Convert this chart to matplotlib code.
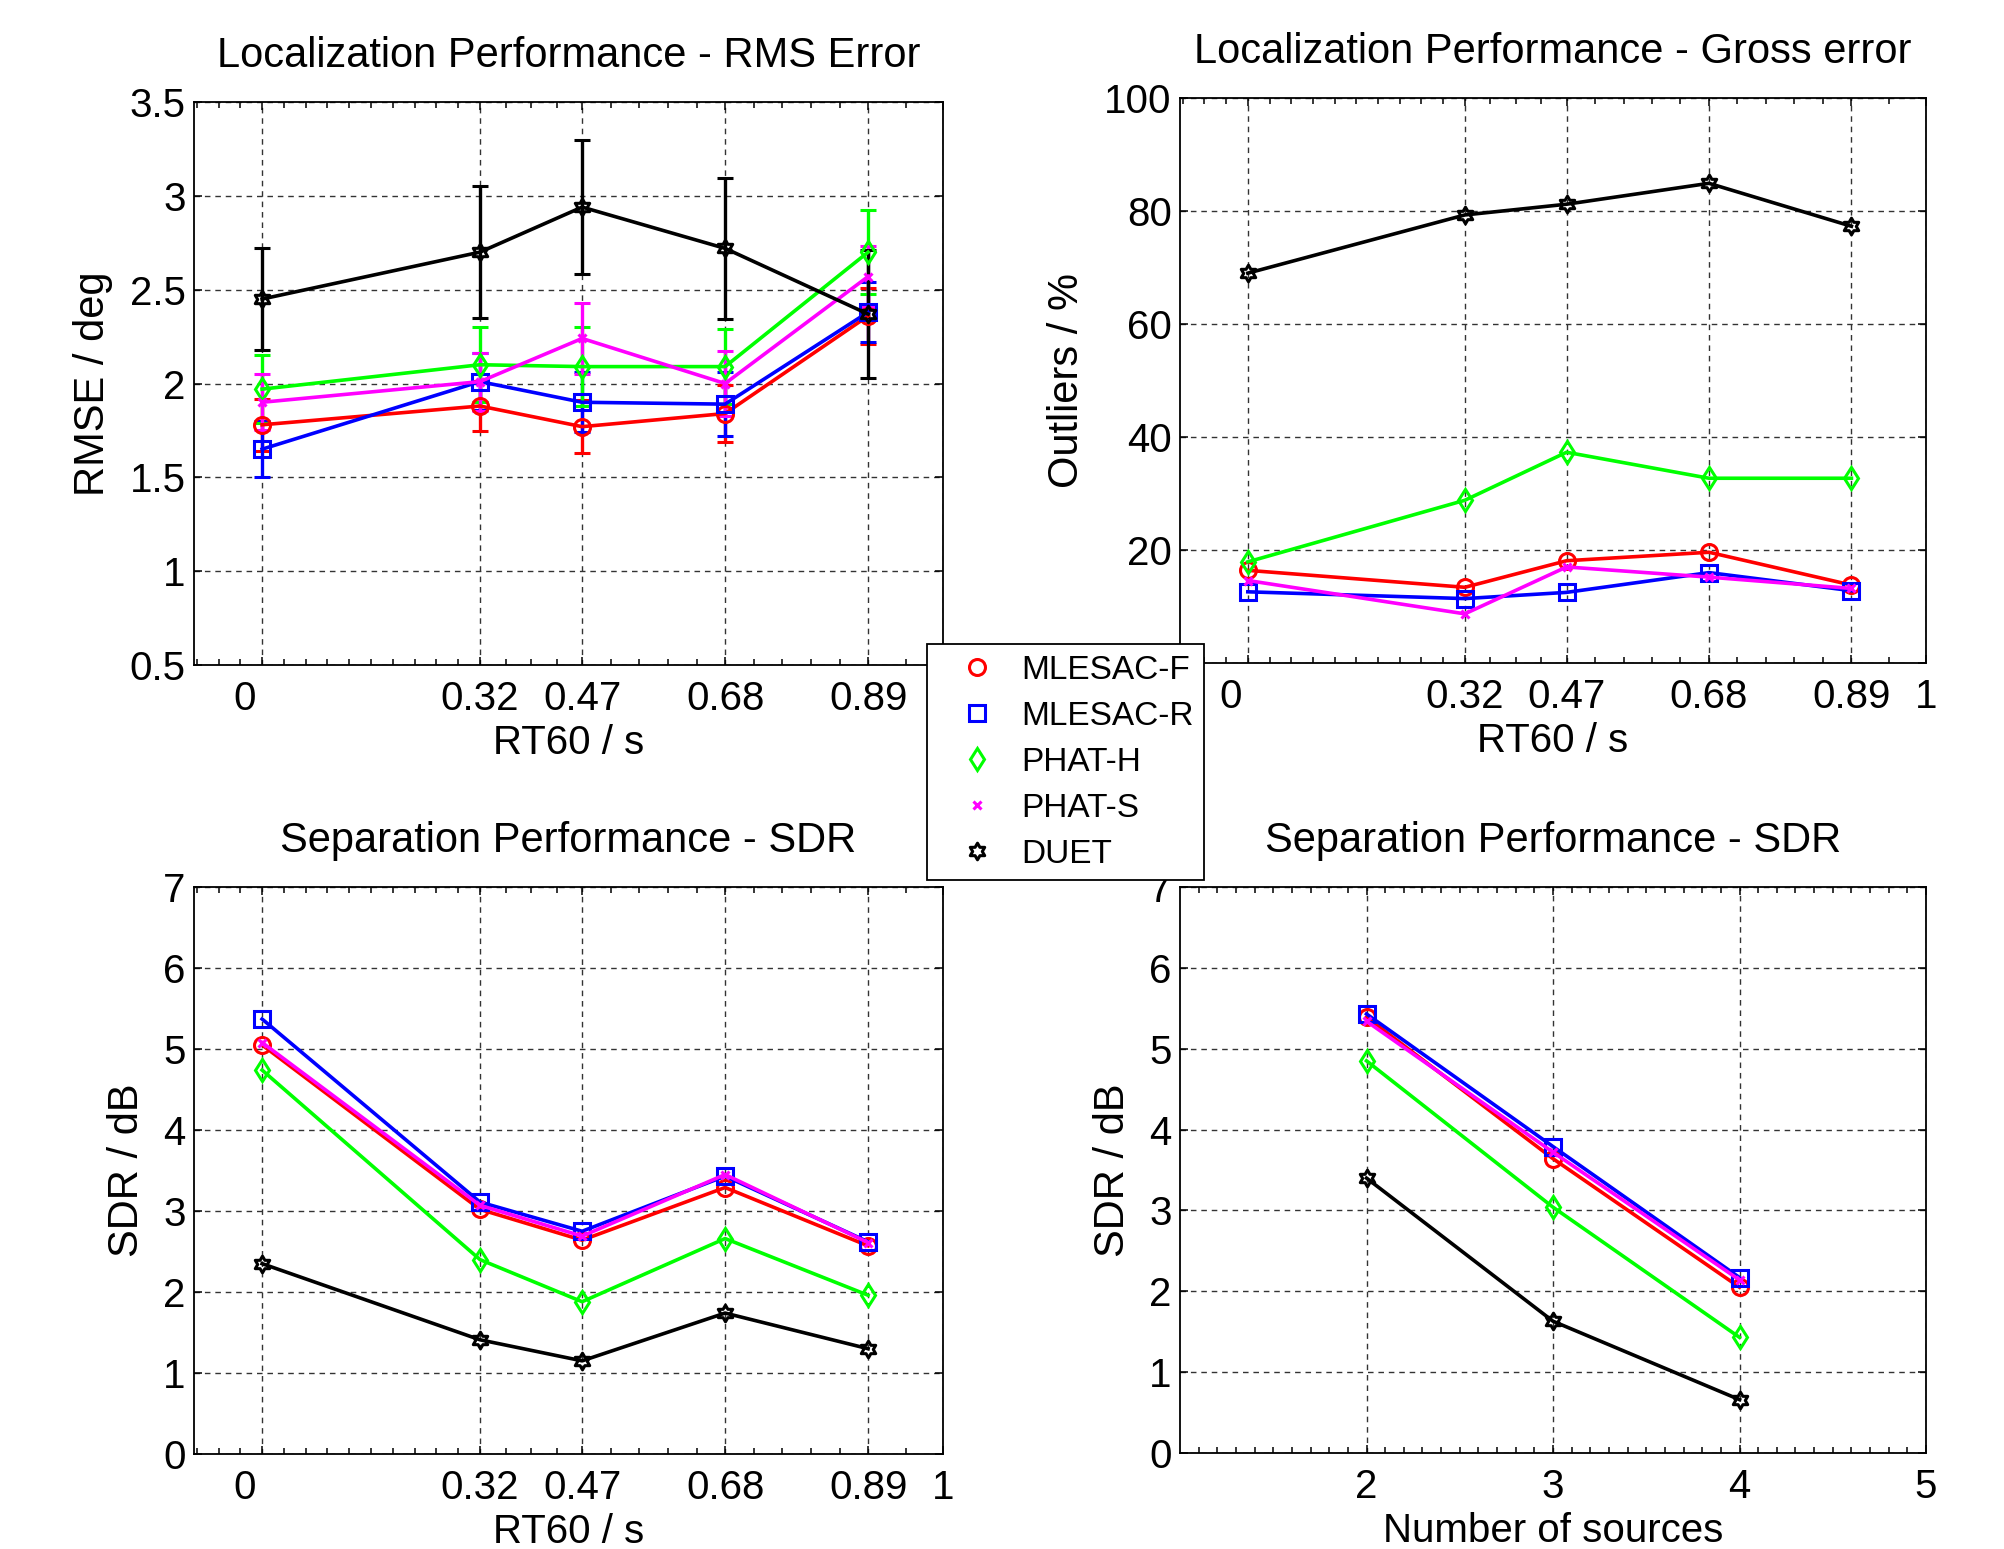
"""Localization and separation performance of the TDOA estimators."""

from __future__ import annotations

import matplotlib

matplotlib.use("Agg")
import matplotlib.pyplot as plt
import numpy as np
from matplotlib.lines import Line2D
from matplotlib.path import Path
from matplotlib.ticker import FixedLocator, FuncFormatter
from matplotlib.transforms import ScaledTranslation


METHODS = ["MLESAC-F", "MLESAC-R", "PHAT-H", "PHAT-S", "DUET"]
RT60_VALUES = [0.0, 0.32, 0.47, 0.68, 0.89]
RT60_TICKS = [0.0, 0.32, 0.47, 0.68, 0.89, 1.0]
SOURCE_COUNTS = [2, 3, 4]

# rows follow METHODS, columns follow RT60_VALUES
RMSE_MEAN = [
    [1.78, 1.88, 1.77, 1.84, 2.36],
    [1.65, 2.01, 1.90, 1.89, 2.38],
    [1.97, 2.10, 2.09, 2.09, 2.70],
    [1.90, 2.01, 2.24, 2.00, 2.57],
    [2.45, 2.70, 2.94, 2.72, 2.37],
]
RMSE_STD = [
    [0.14, 0.135, 0.14, 0.15, 0.15],
    [0.15, 0.15, 0.16, 0.17, 0.16],
    [0.18, 0.20, 0.21, 0.20, 0.225],
    [0.15, 0.155, 0.19, 0.175, 0.165],
    [0.27, 0.35, 0.355, 0.375, 0.34],
]
OUTLIER_PCT = [
    [16.4, 13.4, 18.1, 19.6, 13.8],
    [12.6, 11.4, 12.5, 16.0, 12.8],
    [17.9, 28.8, 37.3, 32.7, 32.7],
    [14.6, 8.7, 17.0, 15.2, 13.2],
    [69.0, 79.3, 81.2, 84.9, 77.3],
]
SDR_RT60 = [
    [5.05, 3.02, 2.64, 3.29, 2.57],
    [5.37, 3.11, 2.75, 3.43, 2.62],
    [4.74, 2.40, 1.88, 2.66, 1.96],
    [5.08, 3.07, 2.69, 3.45, 2.61],
    [2.35, 1.41, 1.15, 1.74, 1.30],
]
# rows follow METHODS, columns follow SOURCE_COUNTS
SDR_SOURCES = [
    [5.39, 3.64, 2.05],
    [5.43, 3.79, 2.17],
    [4.85, 3.04, 1.43],
    [5.34, 3.72, 2.14],
    [3.40, 1.63, 0.66],
]

FIG_W, FIG_H = 2004, 1549
TICK_SIZE = 29
LABEL_SIZE = 29
TITLE_SIZE = 30
LEGEND_SIZE = 24
LINE_WIDTH = 2.6


def hexagram_path() -> Path:
    """Return the outline of a six-pointed star marker."""
    angles = np.deg2rad(90 + 30 * np.arange(12))
    radii = np.where(np.arange(12) % 2 == 0, 1.0, 1 / np.sqrt(3))
    verts = np.column_stack([radii * np.cos(angles), radii * np.sin(angles)])
    verts = np.vstack([verts, verts[:1]])
    codes = [Path.MOVETO] + [Path.LINETO] * 11 + [Path.CLOSEPOLY]
    return Path(verts, codes)


STYLES = {
    "MLESAC-F": dict(color=(1, 0, 0), marker="o", ms=11.5),
    "MLESAC-R": dict(color=(0, 0, 1), marker="s", ms=11.5),
    "PHAT-H": dict(color=(0, 1, 0), marker="d", ms=11.5),
    "PHAT-S": dict(color=(1, 0, 1), marker="x", ms=6),
    "DUET": dict(color=(0, 0, 0), marker=hexagram_path(), ms=12),
}


def px_axes(fig, left: int, top: int, right: int, bottom: int):
    """Add an axes given its pixel box (origin top-left)."""
    rect = [left / FIG_W, 1 - bottom / FIG_H, (right - left) / FIG_W, (bottom - top) / FIG_H]
    return fig.add_axes(rect)


def rt60_minor_ticks() -> list[float]:
    """Subdivide the RT60 tick intervals the way the axis ruler does."""
    edges = RT60_TICKS
    parts = [10, 4, 5, 5, 2]
    ticks = [-0.032, -0.064, -0.096]
    for start, stop, count in zip(edges[:-1], edges[1:], parts):
        ticks.extend(np.linspace(start, stop, count + 1)[1:-1])
    return ticks


def style_axes(ax, title: str, xlabel: str, ylabel: str) -> None:
    """Boxed axes with inward ticks and dashed grid."""
    for spine in ax.spines.values():
        spine.set_linewidth(1.3)
        spine.set_color("black")
    ax.tick_params(
        which="both", direction="in", top=True, right=True,
        labelsize=TICK_SIZE, width=1.1, color="black",
    )
    ax.tick_params(axis="x", which="major", length=6, pad=11)
    ax.tick_params(axis="y", which="major", length=6, pad=6)
    ax.tick_params(which="minor", length=4.5)
    ax.yaxis.set_major_formatter(FuncFormatter(lambda v, _: f"{v:g}"))
    ax.xaxis.set_major_formatter(FuncFormatter(lambda v, _: f"{v:g}"))
    ax.grid(True, which="major", color="0.2", linestyle=(0, (4, 3.5)), linewidth=1.0)
    ax.set_axisbelow(True)
    ax.set_title(title, fontsize=TITLE_SIZE, pad=25)
    ax.set_xlabel(xlabel, fontsize=LABEL_SIZE, labelpad=4)
    ax.set_ylabel(ylabel, fontsize=LABEL_SIZE + 1, labelpad=12)


def setup_rt60_axis(ax, fig, show_one: bool = True) -> None:
    """RT60 axis from -0.1 to 1 with the zero label nudged left."""
    ax.set_xlim(-0.1, 1.0)
    ax.xaxis.set_major_locator(FixedLocator(RT60_TICKS))
    ax.xaxis.set_minor_locator(FixedLocator(rt60_minor_ticks()))
    if not show_one:
        # the legend box sits over this corner
        ax.xaxis.set_major_formatter(
            FuncFormatter(lambda v, _: "" if v >= 1.0 else f"{v:g}")
        )
    zero_label = ax.xaxis.get_major_ticks()[0].label1
    zero_label.set_transform(
        zero_label.get_transform() + ScaledTranslation(-0.17, 0, fig.dpi_scale_trans)
    )


def plot_lines(ax, x, table, yerr=None) -> None:
    """Draw one line per method, optionally with error bars."""
    for i, name in enumerate(METHODS):
        st = STYLES[name]
        common = dict(
            color=st["color"], marker=st["marker"], ms=st["ms"],
            mfc="none", mec=st["color"], mew=2.2, lw=LINE_WIDTH,
        )
        if yerr is None:
            ax.plot(x, table[i], **common)
        else:
            ax.errorbar(
                x, table[i], yerr=yerr[i], capsize=5.5, capthick=2.4,
                elinewidth=2.4, **common,
            )


def main() -> None:
    plt.rcParams["font.family"] = ["Liberation Sans", "DejaVu Sans"]
    fig = plt.figure(figsize=(FIG_W / 100, FIG_H / 100), dpi=100)
    fig.patch.set_facecolor("white")

    ax_rmse = px_axes(fig, 194, 102, 943, 665)
    ax_out = px_axes(fig, 1180, 98, 1926, 663)
    ax_sdr = px_axes(fig, 194, 887, 943, 1454)
    ax_src = px_axes(fig, 1180, 887, 1926, 1453)

    # RMS error with standard deviation bars
    plot_lines(ax_rmse, RT60_VALUES, RMSE_MEAN, yerr=RMSE_STD)
    ax_rmse.set_ylim(0.5, 3.5)
    ax_rmse.yaxis.set_major_locator(FixedLocator(np.arange(0.5, 3.51, 0.5)))
    style_axes(ax_rmse, "Localization Performance - RMS Error", "RT60 / s", "RMSE / deg")
    setup_rt60_axis(ax_rmse, fig, show_one=False)

    # share of gross localization errors
    plot_lines(ax_out, RT60_VALUES, OUTLIER_PCT)
    ax_out.set_ylim(0, 100)
    ax_out.yaxis.set_major_locator(FixedLocator(np.arange(0, 101, 20)))
    style_axes(ax_out, "Localization Performance - Gross error", "RT60 / s", "Outliers / %")
    # zero label is covered by the legend box
    ax_out.yaxis.set_major_formatter(FuncFormatter(lambda v, _: "" if v == 0 else f"{v:g}"))
    setup_rt60_axis(ax_out, fig)

    # separation quality against reverberation
    plot_lines(ax_sdr, RT60_VALUES, SDR_RT60)
    ax_sdr.set_ylim(0, 7)
    ax_sdr.yaxis.set_major_locator(FixedLocator(np.arange(0, 8, 1)))
    style_axes(ax_sdr, "Separation Performance - SDR", "RT60 / s", "SDR / dB")
    setup_rt60_axis(ax_sdr, fig)

    # separation quality against number of sources
    plot_lines(ax_src, SOURCE_COUNTS, SDR_SOURCES)
    ax_src.set_xlim(1, 5)
    ax_src.set_ylim(0, 7)
    ax_src.xaxis.set_major_locator(FixedLocator([2, 3, 4, 5]))
    ax_src.xaxis.set_minor_locator(FixedLocator(np.arange(1.1, 5.0, 0.1)))
    ax_src.yaxis.set_major_locator(FixedLocator(np.arange(0, 8, 1)))
    style_axes(ax_src, "Separation Performance - SDR", "Number of sources", "SDR / dB")

    handles = [
        Line2D(
            [], [], ls="none", marker=STYLES[name]["marker"], ms=STYLES[name]["ms"],
            color=STYLES[name]["color"], mfc="none", mew=2.2,
        )
        for name in METHODS
    ]
    legend = fig.legend(
        handles, METHODS, loc="upper left",
        bbox_to_anchor=(927 / FIG_W, 1 - 644 / FIG_H),
        borderaxespad=0, fontsize=LEGEND_SIZE, frameon=True, fancybox=False,
        edgecolor="black", framealpha=1.0, numpoints=1,
        handlelength=2.35, handletextpad=0.15, borderpad=0.32, labelspacing=0.45,
    )
    legend.get_frame().set_linewidth(1.3)

    fig.savefig("out.png", dpi=100, facecolor="white")
    plt.close(fig)


if __name__ == "__main__":
    main()
